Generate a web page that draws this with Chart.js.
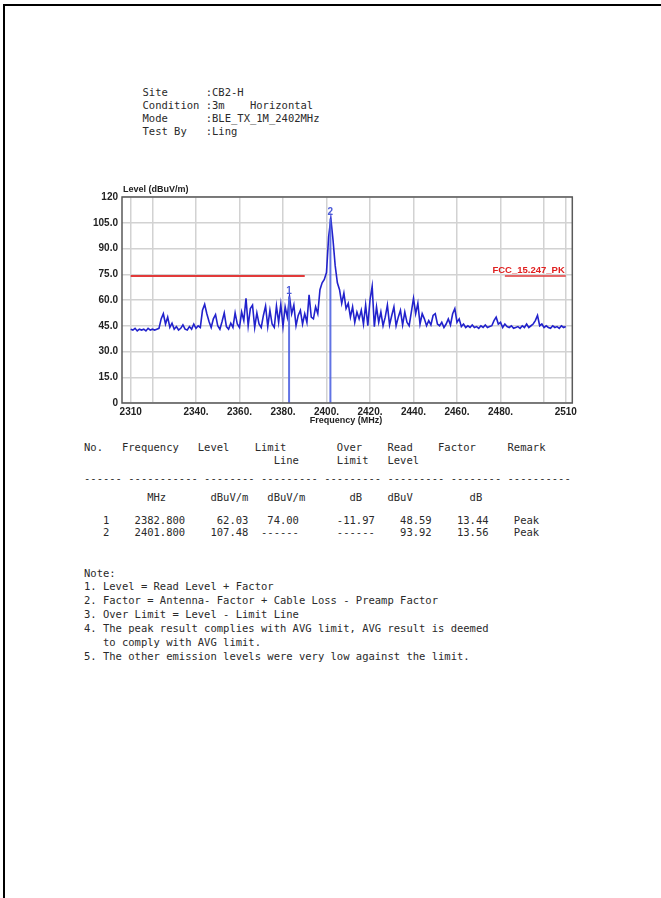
<!DOCTYPE html>
<html>
<head>
<meta charset="utf-8">
<script src="https://cdn.jsdelivr.net/npm/chart.js@4"></script>
<style>
  html, body { margin: 0; background: #fff; overflow: hidden; }
  body { width: 661px; height: 898px; position: relative; }
  .rule { position: absolute; background: #000; }
  .mono { position: absolute; margin: 0; font-family: "DejaVu Sans Mono", monospace; font-size: 10.5px; color: #2a2a2a; white-space: pre; }
  #chartBox { position: absolute; left: 80px; top: 180px; width: 500px; height: 250px; }
</style>
</head>
<body>
<div class="rule" style="left:3px; top:4px; width:658px; height:2px;"></div>
<div class="rule" style="left:3px; top:4px; width:2px; height:894px;"></div>

<pre class="mono" style="left:142.5px; top:86px; line-height:13px;">Site      :CB2-H
Condition :3m    Horizontal
Mode      :BLE_TX_1M_2402MHz
Test By   :Ling</pre>

<div id="chartBox"><canvas id="spectrum"></canvas></div>

<pre class="mono" style="left:84px; top:441px; line-height:13px;">No.   Frequency   Level    Limit        Over    Read    Factor     Remark
                              Line      Limit   Level</pre>
<pre class="mono" style="left:84px; top:472px; line-height:13px;">------ ----------- -------- --------- --------- --------- -------- ----------</pre>
<pre class="mono" style="left:84px; top:491px; line-height:13px;">          MHz       dBuV/m   dBuV/m       dB    dBuV         dB</pre>
<pre class="mono" style="left:84px; top:514px; line-height:12.4px;">   1    2382.800     62.03   74.00      -11.97    48.59    13.44    Peak
   2    2401.800    107.48  ------      ------    93.92    13.56    Peak</pre>

<pre class="mono" style="left:84px; top:566.5px; line-height:13.9px;">Note:
1. Level = Read Level + Factor
2. Factor = Antenna- Factor + Cable Loss - Preamp Factor
3. Over Limit = Level - Limit Line
4. The peak result complies with AVG limit, AVG result is deemed
   to comply with AVG limit.
5. The other emission levels were very low against the limit.</pre>

<script>
// sweep: 2310 .. 2510 MHz, 1 MHz per reading
const freqStart = 2310;
const freqStep = 1;
const levels = [
    43, 42.5, 43.5, 42, 43, 42.5, 43, 42, 43.5, 42.5,
    43, 42.5, 43, 43.5, 49, 52, 46, 50, 44, 46.5,
    43, 44.5, 42.5, 43.5, 45.5, 43, 42.5, 44.5, 43, 46,
    43.5, 45, 44, 54, 57.5, 52, 47.5, 44, 49, 51.5,
    45, 43, 47.5, 52.5, 44.5, 43, 46.5, 44, 52.5, 46,
    44, 53, 48, 61, 45, 55, 57, 44, 52.5, 46,
    44, 51, 56.5, 44.5, 54, 46, 44, 56.5, 47, 57.5,
    44.5, 56, 50, 62, 52, 57, 45, 51, 54, 46,
    52, 47, 63, 50, 49, 56, 52, 66, 70, 72,
    76, 97, 107.5, 95, 80, 70, 66, 58, 64, 55,
    58, 50, 56, 47, 53, 49, 54, 46, 57, 45,
    60, 68, 44.5, 56, 47, 53, 45, 50, 57, 45.5,
    51, 56, 45, 50, 54, 45.5, 53, 47, 45, 53,
    61, 52, 58, 46, 52, 49, 45, 48, 45.5, 51,
    52, 46, 45, 47, 44, 46, 49, 45.5, 52, 55,
    47, 49, 44.5, 46, 44, 45, 44, 45.5, 44, 44.5,
    43.5, 45, 44, 45.5, 44, 44.5, 45, 48, 50, 46,
    47, 44, 46, 44.5, 44, 45, 43.5, 44, 44.5, 43.5,
    45, 44, 46, 44, 45, 46, 48, 51, 45, 46,
    44, 45, 44, 43.5, 45, 44, 44.5, 43.5, 45, 44, 44.5
];

// limit line FCC_15.247_PK (restricted bands)
const limitLevel = 74;
const limitBandLow = [2310, 2390];
const limitBandHigh = [2482, 2510];
const limitName = 'FCC_15.247_PK';

// markers
const markerFreqs = [2382.8, 2401.8];
const markerLevels = [62.03, 107.48];
const markerNames = ['1', '2'];

const xTickValues = [2310, 2320, 2340, 2360, 2380, 2400, 2420, 2440, 2460, 2480, 2500, 2510];
const xTickLabels = ['2310', '', '2340.', '2360.', '2380.', '2400.', '2420.', '2440.', '2460.', '2480.', '', '2510'];
const yTickValues = [0, 15, 30, 45, 60, 75, 90, 105, 120];
const yTickLabels = ['0', '15.0', '30.0', '45.0', '60.0', '75.0', '90.0', '105.0', '120'];

const traceData = levels.map((v, i) => ({ x: freqStart + i * freqStep, y: v }));

const datasets = [];
datasets.push({
    data: [{ x: limitBandLow[0], y: limitLevel }, { x: limitBandLow[1], y: limitLevel }],
    borderColor: '#e23a3a', borderWidth: 2
});
datasets.push({
    data: [{ x: limitBandHigh[0], y: limitLevel }, { x: limitBandHigh[1], y: limitLevel }],
    borderColor: '#e23a3a', borderWidth: 1.6
});
markerFreqs.forEach((f, i) => {
    datasets.push({
        data: [{ x: f, y: 0 }, { x: f, y: markerLevels[i] }],
        borderColor: 'rgba(80,100,225,0.9)', borderWidth: 2
    });
});
datasets.push({
    data: traceData,
    borderColor: '#2222cc', borderWidth: 1.6
});

const labelFont = 'bold 9px "Liberation Sans", Arial, sans-serif';

const decorPlugin = {
    id: 'decor',
    afterDraw(chart) {
        const ctx = chart.ctx;
        const area = chart.chartArea;
        const xs = chart.scales.x;
        const ys = chart.scales.y;
        ctx.save();
        // plot frame
        ctx.strokeStyle = '#5a5a5a';
        ctx.lineWidth = 1.5;
        ctx.strokeRect(area.left, area.top, area.right - area.left, area.bottom - area.top);
        // axis titles
        ctx.fillStyle = '#222';
        ctx.font = labelFont;
        ctx.textBaseline = 'middle';
        ctx.textAlign = 'left';
        ctx.fillText('Level (dBuV/m)', area.left + 1, area.top - 7);
        ctx.textAlign = 'center';
        ctx.fillText('Frequency (MHz)', xs.getPixelForValue(2409), area.bottom + 18);
        // limit name
        ctx.fillStyle = '#e02020';
        ctx.font = 'bold 9.5px "Liberation Sans", Arial, sans-serif';
        ctx.textAlign = 'right';
        ctx.textBaseline = 'alphabetic';
        ctx.fillText(limitName, xs.getPixelForValue(limitBandHigh[1]) - 1, ys.getPixelForValue(limitLevel) - 3);
        // marker numbers
        ctx.fillStyle = '#4a5ad8';
        ctx.font = 'bold 10px "Liberation Sans", Arial, sans-serif';
        ctx.textAlign = 'center';
        markerFreqs.forEach((f, i) => {
            ctx.fillText(markerNames[i], xs.getPixelForValue(f), ys.getPixelForValue(markerLevels[i]) - 3);
        });
        ctx.restore();
    }
};

new Chart(document.getElementById('spectrum'), {
    type: 'line',
    data: { datasets: datasets },
    options: {
        responsive: true,
        maintainAspectRatio: false,
        animation: false,
        layout: { padding: { top: 17, right: 7, bottom: 0, left: 0 } },
        elements: {
            point: { radius: 0 },
            line: { tension: 0 }
        },
        plugins: {
            legend: { display: false },
            tooltip: { enabled: false }
        },
        scales: {
            x: {
                type: 'linear',
                min: 2306,
                max: 2513,
                afterBuildTicks: (scale) => { scale.ticks = xTickValues.map(v => ({ value: v })); },
                afterFit: (scale) => { scale.height = 27; },
                grid: { color: '#d2d2d2', lineWidth: 1.5, drawTicks: false },
                border: { display: false },
                ticks: {
                    autoSkip: false,
                    maxRotation: 0,
                    padding: 3,
                    color: '#222',
                    font: { family: '"Liberation Sans", Arial, sans-serif', size: 10, weight: 'bold' },
                    callback: (value, index) => xTickLabels[index]
                }
            },
            y: {
                min: 0,
                max: 120,
                afterBuildTicks: (scale) => { scale.ticks = yTickValues.map(v => ({ value: v })); },
                afterFit: (scale) => { scale.width = 42; },
                grid: { color: '#d2d2d2', lineWidth: 1.5, drawTicks: false },
                border: { display: false },
                ticks: {
                    padding: 4,
                    color: '#222',
                    font: { family: '"Liberation Sans", Arial, sans-serif', size: 10, weight: 'bold' },
                    callback: (value, index) => yTickLabels[index]
                }
            }
        }
    },
    plugins: [decorPlugin]
});
</script>
</body>
</html>
